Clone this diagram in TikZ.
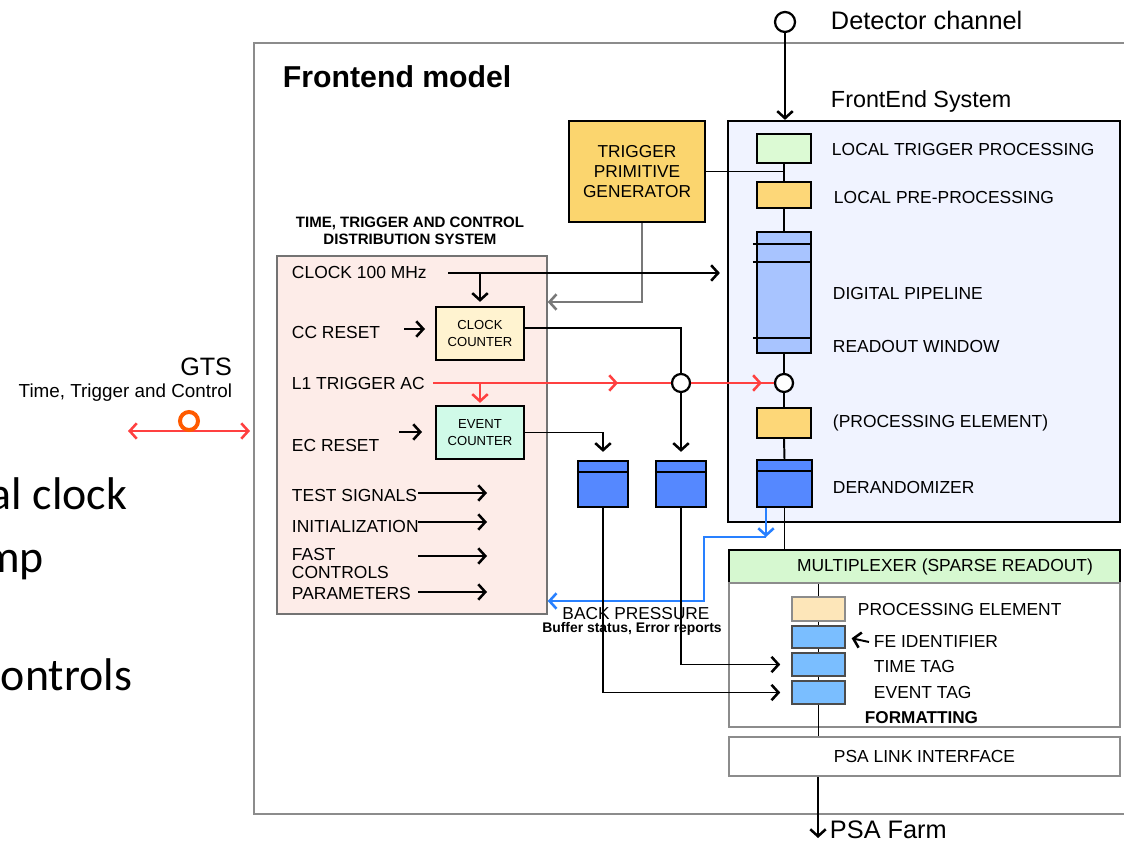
\documentclass[tikz,border=0pt]{standalone}
\usepackage{fontspec}
\setmainfont{Liberation Sans}
\newfontfamily\slidefont{Carlito}
\usetikzlibrary{arrows.meta}

\definecolor{framegray}{RGB}{140,140,140}
\definecolor{ttcpink}{RGB}{253,236,232}
\definecolor{tpgyellow}{RGB}{251,213,110}
\definecolor{ltpgreen}{RGB}{220,250,212}
\definecolor{lppyellow}{RGB}{253,215,120}
\definecolor{pipeblue}{RGB}{168,196,255}
\definecolor{bufblue}{RGB}{85,136,255}
\definecolor{fefill}{RGB}{240,243,255}
\definecolor{ccfill}{RGB}{255,243,208}
\definecolor{ecfill}{RGB}{208,250,232}
\definecolor{muxgreen}{RGB}{214,248,208}
\definecolor{fpefill}{RGB}{253,230,185}
\definecolor{tagblue}{RGB}{122,190,255}
\definecolor{l1red}{RGB}{255,64,64}
\definecolor{gtsorange}{RGB}{255,90,0}
\definecolor{bpblue}{RGB}{40,128,255}
\definecolor{tpggray}{RGB}{120,120,120}

\tikzset{
  box/.style={draw, line width=1.6pt, inner sep=0pt},
  thinbox/.style={draw=framegray, line width=1.5pt, inner sep=0pt},
  chainbox/.style={draw=black!70, line width=1.1pt, inner sep=0pt, minimum width=1.325cm},
  lbl/.style={anchor=west, inner sep=0pt, font=\fontsize{12.4}{14}\selectfont},
  junc/.style={circle, draw, fill=white, line width=1.6pt, inner sep=0pt, minimum size=0.45cm},
  arr/.style={-{Straight Barb[length=5pt,width=11pt,line width=1.8pt]}},
  darr/.style={{Straight Barb[length=5pt,width=11pt,line width=1.8pt]}-{Straight Barb[length=5pt,width=11pt,line width=1.8pt]}},
  redwire/.style={draw=l1red, line width=1.2pt},
  slide/.style={inner sep=0pt, font=\slidefont\fontsize{32.6}{36}\selectfont}
}

\begin{document}
\begin{tikzpicture}[x=0.025cm, y=-0.025cm, line width=1.4pt]
  \useasboundingbox (0,0) rectangle (1124,845);
  \clip (0,0) rectangle (1124,845);

  % slide text
  \node[slide, anchor=base east] (s1) at (128,510) {al clock};
  \node[slide, anchor=base east] (s2) at (45,572) {mp};
  \node[slide, anchor=base east] (s3) at (133,690) {ontrols};

  \draw[framegray, line width=1.5pt] (254,43) rectangle (1140,814);
  \node[anchor=west, inner sep=0pt, font=\bfseries\fontsize{21.5}{24}\selectfont] (title) at (282,77) {Frontend model};

  % GTS
  \node[anchor=east, inner sep=0pt, font=\fontsize{17.9}{20}\selectfont] (gts) at (233,367) {GTS};
  \node[anchor=east, inner sep=0pt, font=\fontsize{13.4}{15}\selectfont] (gtsttc) at (233,393) {Time, Trigger and Control};
  \coordinate (gtsl) at (128,431);
  \coordinate (gtsr) at (250,431);
  \draw[redwire, darr] (gtsl) -- (gtsr);
  \node[circle, draw=gtsorange, line width=2.8pt, inner sep=0pt, minimum size=0.45cm] (gtsc) at (189,421) {};

  % TTC distribution
  \node[draw=black!55, line width=1pt, fill=ttcpink, minimum width=6.75cm, minimum height=8.95cm] (ttc) at (412,435) {};
  \node[inner sep=0pt, align=center, font=\bfseries\fontsize{10.7}{12.3}\selectfont] (ttctitle) at (410,231) {TIME, TRIGGER AND CONTROL\\ DISTRIBUTION SYSTEM};

  \node[lbl] (clk) at (291,273) {CLOCK 100 MHz};
  \node[lbl] (ccr) at (291,332) {CC RESET};
  \node[lbl] (l1) at (291,383) {L1 TRIGGER AC};
  \node[lbl] (ecr) at (291,445) {EC RESET};
  \node[lbl] (tst) at (291,495) {TEST SIGNALS};
  \node[lbl] (ini) at (291,526) {INITIALIZATION};
  \node[lbl, align=left, font=\fontsize{12.4}{12.8}\selectfont] (fast) at (291,563) {FAST\\CONTROLS};
  \node[lbl] (par) at (291,593) {PARAMETERS};

  \node[box, fill=ccfill, minimum width=2.2cm, minimum height=1.325cm, align=center, font=\fontsize{9.3}{12}\selectfont] (cc) at (480,333.5) {CLOCK\\COUNTER};
  \node[box, fill=ecfill, minimum width=2.2cm, minimum height=1.325cm, align=center, font=\fontsize{9.3}{12}\selectfont] (ec) at (480,432.5) {EVENT\\COUNTER};

  \coordinate (ccra) at (404,329);
  \coordinate (ecra) at (399,432);
  \draw[arr] (ccra) -- ++(21,0);
  \draw[arr] (ecra) -- ++(23,0);
  \foreach \s/\y in {tst/493, ini/522, fast/556, par/592} {
    \coordinate (\s-a) at (418,\y);
    \coordinate (\s-b) at (487,\y);
    \draw[arr] (\s-a) -- (\s-b);
  }

  % trigger primitive generator
  \node[box, fill=tpgyellow, minimum width=3.4cm, minimum height=2.525cm, align=center, font=\fontsize{12.3}{14.5}\selectfont] (tpg) at (637,171.5) {TRIGGER\\PRIMITIVE\\GENERATOR};

  % frontend system
  \node[anchor=west, inner sep=0pt, font=\fontsize{18}{20}\selectfont] (detlbl) at (830,20) {Detector channel};
  \node[anchor=west, inner sep=0pt, font=\fontsize{16.6}{19}\selectfont] (felbl) at (830,101) {FrontEnd System};
  \node[box, fill=fefill, line width=1.5pt, minimum width=9.8cm, minimum height=10.025cm] (fe) at (924,321.5) {};
  \node[junc, minimum size=0.5cm] (det) at (785,22) {};

  \node[box, fill=ltpgreen, minimum width=1.35cm, minimum height=0.725cm] (ltp) at (784,148.5) {};
  \node[box, fill=lppyellow, minimum width=1.35cm, minimum height=0.65cm] (lpp) at (784,195) {};
  \node[box, fill=pipeblue, minimum width=1.35cm, minimum height=3.025cm] (pipe) at (784,292.5) {};
  \node[junc] (c2) at (784,383) {};
  \node[box, fill=lppyellow, minimum width=1.35cm, minimum height=0.75cm] (pe) at (784,423) {};
  \node[box, fill=bufblue, minimum width=1.375cm, minimum height=1.175cm] (dz) at (784.5,483.5) {};
  \foreach \d in {13,31,107}
    \draw ([xshift=-0.075cm, yshift=-\d*0.025cm]pipe.north west) -- ([yshift=-\d*0.025cm]pipe.north east);

  \node[lbl] (ltplbl) at (831,150) {LOCAL TRIGGER PROCESSING};
  \node[lbl] (lpplbl) at (833,198) {LOCAL PRE-PROCESSING};
  \node[lbl] (piplbl) at (832,294) {DIGITAL PIPELINE};
  \node[lbl] (rowlbl) at (832,346) {READOUT WINDOW};
  \node[lbl] (pelbl) at (832,423) {(PROCESSING ELEMENT)};
  \node[lbl] (dzlbl) at (832,487) {DERANDOMIZER};

  % buffers
  \node[box, fill=bufblue, minimum width=1.25cm, minimum height=1.15cm] (b1) at (603,484) {};
  \node[box, fill=bufblue, minimum width=1.25cm, minimum height=1.15cm] (b2) at (681,484) {};
  \foreach \b in {b1,b2,dz}
    \draw ([yshift=-0.3cm]\b.north west) -- ([yshift=-0.3cm]\b.north east);

  % multiplexer and formatting
  \node[box, fill=muxgreen, minimum width=9.775cm, minimum height=0.825cm] (mux) at (924.5,566.5) {};
  \node[inner sep=0pt, font=\fontsize{12.4}{14}\selectfont] (muxlbl) at (945,567) {MULTIPLEXER (SPARSE READOUT)};
  \node[thinbox, fill=white, minimum width=9.775cm, minimum height=3.6cm] (fmt) at (924.5,655) {};
  \node[thinbox, fill=white, minimum width=9.775cm, minimum height=0.975cm, font=\fontsize{12.4}{14}\selectfont] (psa) at (924.5,756.5) {PSA LINK INTERFACE};

  \node[chainbox, draw=framegray, fill=fpefill, minimum height=0.6cm] (fpe) at (818.5,609) {};
  \node[chainbox, fill=tagblue, minimum height=0.55cm] (fid) at (818.5,637) {};
  \node[chainbox, fill=tagblue, minimum height=0.575cm] (ttag) at (818.5,664.5) {};
  \node[chainbox, fill=tagblue, minimum height=0.575cm] (etag) at (818.5,692.5) {};

  \node[lbl] (fpelbl) at (857,609) {PROCESSING ELEMENT};
  \node[lbl] (fidlbl) at (873,642) {FE IDENTIFIER};
  \node[lbl] (ttaglbl) at (873,666) {TIME TAG};
  \node[lbl] (etaglbl) at (873,692) {EVENT TAG};
  \node[lbl, font=\bfseries\fontsize{12.2}{14}\selectfont] (fmtlbl) at (864,718) {FORMATTING};
  \node[anchor=west, inner sep=0pt, font=\fontsize{18}{20}\selectfont] (farmlbl) at (829,830) {PSA Farm};
  \coordinate (farm) at (818,838);
  \coordinate (fida) at (869,642);

  % connectors
  \draw[tpggray, arr] ([xshift=0.125cm]tpg.south) |- (ttc.east |- 0,302);
  \draw[arr] (det.south) -- (det |- fe.north);
  \draw (tpg.east) -- (tpg.east -| ltp.south);
  \draw (ltp.south) -- (lpp.north);
  \draw (lpp.south) -- (pipe.north);
  \draw (pipe.south) -- (c2.north);
  \draw (c2.south) -- (pe.north);
  \draw (pe.south) -- (dz.north);
  \draw (dz.south) -- (dz.south |- mux.north);

  \coordinate (clka) at (448,273);
  \draw[arr, shorten >=0.175cm] (clka) -- (clka -| fe.west);
  \draw[arr, shorten >=0.1cm] (cc.north |- clka) -- (cc.north);

  \coordinate (l1a) at (433,383);
  \coordinate (l1m) at (618,383);
  \node[junc] (c1) at (681,383) {};
  \draw[redwire] (l1a) -- (c1.west);
  \draw[redwire, arr] (l1a) -- (l1m);
  \draw[redwire] (c1.east) -- (c2.west);
  \draw[redwire, arr, shorten >=0.3cm] (c1.east) -- (c2.west);
  \draw[redwire, arr, shorten >=0.05cm] (ec.north |- l1a) -- (ec.north);

  \draw ([yshift=0.14cm]cc.east) -| (c1.north);
  \draw[arr, shorten >=0.2cm] (c1.south) -- (b2.north);
  \draw[arr, shorten >=0.2cm] (ec.east) -| (b1.north);

  \coordinate (bpa) at (766,537);
  \coordinate (bpb) at (704,601);
  \draw[bpblue, line width=1.2pt, arr] (dz.south -| bpa) -- (bpa);
  \draw[bpblue, line width=1.2pt, arr] (bpa) -| (bpb) -- (bpb -| ttc.east);

  \draw[arr, shorten >=0.275cm] (b2.south) |- (ttag.west);
  \draw[arr, shorten >=0.275cm] (b1.south) |- (etag.west);
  \node[inner sep=0pt, font=\fontsize{12.3}{14}\selectfont] (bp) at (636,614) {BACK PRESSURE};
  \node[inner sep=0pt, font=\bfseries\fontsize{9.9}{12}\selectfont] (bps) at (632,629) {Buffer status, Error reports};

  \draw (fpe.north |- mux.south) -- (fpe.north);
  \draw (fpe.south) -- (fid.north);
  \draw (fid.south) -- (ttag.north);
  \draw (ttag.south) -- (etag.north);
  \draw (etag.south) -- (etag.south |- psa.north);
  \draw[arr, shorten >=0.15cm] (fida) -- (fid.east);
  \draw[arr] (psa.south -| farm) -- (farm);
\end{tikzpicture}
\end{document}
